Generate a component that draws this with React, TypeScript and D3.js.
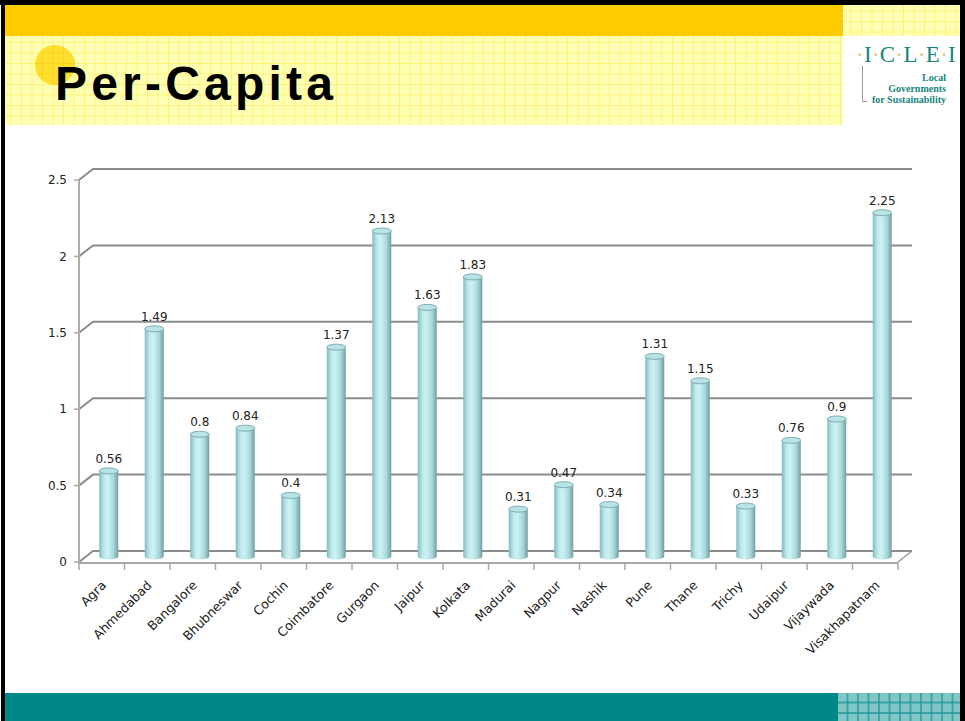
import React from "react";
import * as d3 from "d3";

const cities = ["Agra","Ahmedabad","Bangalore","Bhubneswar","Cochin","Coimbatore","Gurgaon","Jaipur","Kolkata","Madurai","Nagpur","Nashik","Pune","Thane","Trichy","Udaipur","Vijaywada","Visakhapatnam"];
const values = [0.56,1.49,0.8,0.84,0.4,1.37,2.13,1.63,1.83,0.31,0.47,0.34,1.31,1.15,0.33,0.76,0.9,2.25];
const yTicks = [0,0.5,1,1.5,2,2.5];
const yTickLabels = ["0","0.5","1","1.5","2","2.5"];
const title = "Per-Capita";

export default function App() {
  const W = 965, H = 721;
  const x = d3.scaleBand<string>().domain(cities).range([79, 898]);
  const y = d3.scaleLinear().domain([0, 2.5]).range([562, 180]);
  const DX = 14, DY = -11;
  const bw = x.bandwidth();
  const barW = 19;
  const font = "'DejaVu Sans', Verdana, sans-serif";

  return (
    <div style={{ position: "fixed", left: 0, top: 0, width: W, height: H, overflow: "hidden" }}>
      <svg width={W} height={H} style={{ display: "block", position: "absolute", left: 0, top: 0 }}>
        <defs>
          <pattern id="ygrid" width="10.5" height="10.5" patternUnits="userSpaceOnUse">
            <rect width="10.5" height="10.5" fill="#FFFFB4" />
            <path d="M0 0.5 H10.5 M0.5 0 V10.5" stroke="#FFF27A" strokeWidth="1" />
          </pattern>
          <pattern id="cgrid" width="10.5" height="10.5" patternUnits="userSpaceOnUse" x="838" y="693">
            <rect width="10.5" height="10.5" fill="#80C6C6" />
            <path d="M0 9.5 H10.5 M9.5 0 V10.5" stroke="#1C9595" strokeWidth="1.3" />
          </pattern>
          <pattern id="dgrid" width="10.5" height="10.5" patternUnits="userSpaceOnUse">
            <rect width="10.5" height="10.5" fill="#FFE030" />
            <path d="M0 0.5 H10.5 M0.5 0 V10.5" stroke="#FFD21A" strokeWidth="1" />
          </pattern>
          <linearGradient id="cyl" x1="0" x2="1" y1="0" y2="0">
            <stop offset="0" stopColor="#86B9BC" />
            <stop offset="0.25" stopColor="#BFE9EC" />
            <stop offset="0.45" stopColor="#CDF2F4" />
            <stop offset="0.75" stopColor="#A9D8DB" />
            <stop offset="1" stopColor="#6E9EA1" />
          </linearGradient>
        </defs>
        <rect width={W} height={H} fill="#fff" />
        {/* header */}
        <rect x={5} y={36} width={838} height={89} fill="url(#ygrid)" />
        <rect x={843} y={5} width={117} height={31} fill="url(#ygrid)" />
        <rect x={5} y={5} width={838} height={31} fill="#FFCC00" />
        <circle cx={55} cy={65} r={20} fill="url(#dgrid)" />
        <text x={55} y={100} fontFamily="'Liberation Sans', Arial, sans-serif" fontWeight="bold" fontSize={48} letterSpacing={4.2} fill="#000">{title}</text>
        {/* logo */}
        <g fontFamily="'Liberation Serif', 'DejaVu Serif', serif" fill="#17867D">
          <text x={906} y={62} fontSize={23} textAnchor="middle" letterSpacing={0.3}>
            <tspan fill="#E7C25A">·</tspan>I<tspan fill="#E7C25A">·</tspan>C<tspan fill="#E7C25A">·</tspan>L<tspan fill="#E7C25A">·</tspan>E<tspan fill="#E7C25A">·</tspan>I
          </text>
          <text x={946} y={81} fontSize={10} fontWeight="bold" textAnchor="end">Local</text>
          <text x={946} y={92} fontSize={10} fontWeight="bold" textAnchor="end">Governments</text>
          <text x={946} y={103} fontSize={10} fontWeight="bold" textAnchor="end">for Sustainability</text>
        </g>
        <path d="M862.5 66 V101.5 H867" fill="none" stroke="#9A9A9A" strokeWidth={1} />
        {/* footer */}
        <rect x={5} y={693} width={833} height={28} fill="#008888" />
        <rect x={838} y={693} width={122} height={28} fill="url(#cgrid)" />
        {/* borders */}
        <rect x={1} y={0} width={4} height={H} fill="#000" />
        <rect x={0} y={0} width={W} height={5} fill="#000" />
        <rect x={960} y={0} width={5} height={H} fill="#000" />

        {/* gridlines */}
        {yTicks.map((t, i) => (
          <g key={i}>
            <path
              d={`M${x.range()[0]} ${y(t)} L${x.range()[0] + DX} ${y(t) + DY} H${x.range()[1] + DX}`}
              fill="none" stroke="#8C8C8C" strokeWidth={2}
            />
            <line x1={x.range()[0] - 5} x2={x.range()[0]} y1={y(t)} y2={y(t)} stroke="#AAAAAA" strokeWidth={1.5} />
            <text x={67} y={y(t)} dy="0.35em" textAnchor="end" fontFamily={font} fontSize={12} fill="#222">{yTickLabels[i]}</text>
          </g>
        ))}
        {/* floor right edge */}
        <path d={`M${x.range()[1]} ${y(0)} L${x.range()[1] + DX} ${y(0) + DY}`} stroke="#9A9A9A" strokeWidth={1.5} fill="none" />
        {/* y axis */}
        <line x1={x.range()[0]} x2={x.range()[0]} y1={y(2.5)} y2={y(0) + 2} stroke="#ADADAD" strokeWidth={2} />
        {/* x axis */}
        <line x1={x.range()[0]} x2={x.range()[1]} y1={y(0) + 1} y2={y(0) + 1} stroke="#A8A8A8" strokeWidth={2} />
        {cities.map((c) => (
          <line key={c} x1={(x(c) as number)} x2={(x(c) as number)} y1={y(0)} y2={y(0) + 8} stroke="#A8A8A8" strokeWidth={1.5} />
        ))}
        <line x1={x.range()[1]} x2={x.range()[1]} y1={y(0)} y2={y(0) + 8} stroke="#A8A8A8" strokeWidth={1.5} />

        {/* bars */}
        {cities.map((c, i) => {
          const cx = (x(c) as number) + bw / 2 + DX / 2;
          const yb = y(0) + DY / 2;
          const yt = y(values[i]) + DY / 2;
          const rx = barW / 2, ry = 3;
          return (
            <g key={c}>
              <path
                d={`M${cx - rx} ${yt} V${yb} A${rx} ${ry} 0 0 0 ${cx + rx} ${yb} V${yt} Z`}
                fill="url(#cyl)"
              />
              <ellipse cx={cx} cy={yt} rx={rx} ry={ry} fill="#B8E4E7" stroke="#7FAEB1" strokeWidth={1} />
              <text x={cx} y={yt - 8} textAnchor="middle" fontFamily={font} fontSize={12} fill="#222">{values[i]}</text>
            </g>
          );
        })}
        {/* x labels */}
        {cities.map((c) => {
          const cx = (x(c) as number) + bw / 2 + 2;
          return (
            <text key={c} transform={`translate(${cx},${y(0) + 21}) rotate(-45)`} textAnchor="end" dy="0.35em" fontFamily={font} fontSize={12.6} fill="#222">{c}</text>
          );
        })}
      </svg>
    </div>
  );
}
